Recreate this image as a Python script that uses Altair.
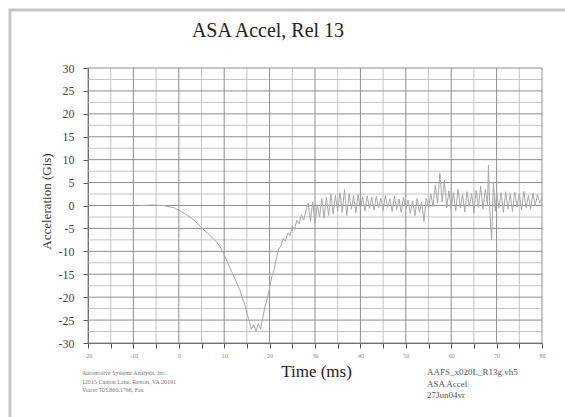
import altair as alt
import pandas as pd

# ---- data ----
time_ms = [-8.5, -6, -3.5, -1, 0.5, 2, 3.5, 5, 6.5, 8, 9, 10, 11, 12, 13, 13.5, 14, 14.5,
           15, 15.5, 16, 16.5, 17, 17.5, 18, 18.5, 19, 19.5, 20, 20.5, 21, 21.5, 22, 22.5,
           23, 23.5, 24, 24.5, 25, 25.5, 26, 26.5, 27, 27.5, 28,
           28.5, 29, 29.5, 30, 30.5, 31, 31.5, 32, 32.5, 33, 33.5, 34, 34.5, 35, 35.5, 36,
           36.5, 37, 37.5, 38, 38.5, 39, 39.5, 40, 40.5, 41, 41.5, 42, 42.5, 43, 43.5, 44,
           44.5, 45, 45.5, 46, 46.5, 47, 47.5, 48, 48.5, 49, 49.5, 50, 50.5, 51, 51.5, 52,
           52.5, 53, 53.5, 54, 54.5, 55, 55.5, 56, 56.5, 57, 57.5, 58, 58.5, 59, 59.5, 60,
           60.5, 61, 61.5, 62, 62.5, 63, 63.5, 64, 64.5, 65, 65.5, 66, 66.5, 67, 67.5, 68,
           68.2, 68.5, 68.9, 69.3, 69.7, 70, 70.5, 71, 71.5, 72, 72.5, 73, 73.5, 74, 74.5,
           75, 75.5, 76, 76.5, 77, 77.5, 78, 78.5, 79, 79.5, 80]
accel_g = [0, 0.1, 0, -0.5, -1.3, -2.2, -3.3, -4.8, -6.2, -7.6, -8.8, -10.8, -13, -15.2,
           -17.5, -18.6, -20.2, -21.5, -23.5, -25.2, -27, -26, -27.5, -25.8, -27, -24.5,
           -22, -20.3, -18, -15.5, -14, -11.5, -9.5, -8.8, -7.2, -7.8, -6, -6.6, -4.5,
           -5.2, -3.2, -4, -2, -3.2, -1.2,
           0.5, -3.5, 0.8, -3.8, 0.2, -2.5, 1.5, -2.8, 1.8, -2.2, 2.5, -1.8, 2.2, -1.2,
           2.8, -1.5, 3.5, -2.2, 2.6, -0.8, 2.2, -1.6, 2.4, -0.8, 1.9, -1.2, 2.1, -0.6,
           1.8, -1.0, 2.0, -0.5, 1.6, -1.1, 2.2, -0.4, 1.5, -1.3, 2.0, -0.9, 1.4, -1.5,
           1.8, -0.7, 1.2, -1.8, 1.0, -2.2, 1.5, -1.5, 0.8, -3.5, 1.6, -0.5, 2.5, -0.2,
           4.5, 0.5, 7.0, 0.8, 5.5, -0.5, 3.2, -0.8, 2.8, -1.2, 3.6, -0.5, 2.4, -1.4,
           3.0, -0.2, 2.6, -1.6, 3.3, -0.4, 4.2, -0.8, 3.5, 0.2, 8.8, -1.0, -7.5, 5.0,
           -1.2, 3.2, -0.6, 2.8, -1.5, 3.0, -0.8, 2.5, -1.3, 2.9, -0.3, 2.6, -1.0, 3.1,
           -0.5, 2.2, -0.8, 2.7, 0.0, 2.4, 0.6, 1.8]

x_ticks = [-20, -15, -10, -5, 0, 5, 10, 15, 20, 25, 30, 35, 40, 45, 50, 55, 60, 65, 70, 75, 80]
x_major = [-20, -10, 0, 10, 20, 30, 40, 50, 60, 70, 80]
x_minor = [-15, -5, 5, 15, 25, 35, 45, 55, 65, 75]
y_major = [-30, -25, -20, -15, -10, -5, 0, 5, 10, 15, 20, 25, 30]
y_minor = [-27.5, -22.5, -17.5, -12.5, -7.5, -2.5, 2.5, 7.5, 12.5, 17.5, 22.5, 27.5]

title_text = "ASA Accel, Rel 13"
x_title = "Time (ms)"
y_title = "Acceleration (Gis)"
left_notes = ["Automotive Systems Analysis, Inc.",
              "12015 Canton Lane, Reston, VA 20191",
              "Voice: 703.860.1766, Fax"]
right_notes = ["AAFS_x020L_R13g.vh5", "ASA Accel", "27Jun04vr"]

SERIF = "Liberation Serif"
xs = alt.Scale(domain=[-20, 80], nice=False, zero=False)
ys = alt.Scale(domain=[-30, 30], nice=False, zero=False)

x_axis = alt.Axis(
    values=x_ticks, grid=False, tickSize=5,
    labelExpr="datum.value % 10 == 0 ? '' + datum.value : ''",
    labelFontSize=6, labelColor="#888", labelPadding=4,
    labelFlush=False, title=x_title, titleFontSize=17,
    titleColor="#222", titleY=33, titleX=228, titleBaseline="alphabetic")
y_axis = alt.Axis(
    values=y_major, grid=False, tickSize=5,
    labelExpr="'' + datum.value", labelFontSize=12,
    labelColor="#444", labelPadding=9, title=y_title,
    titleFontSize=13, titleColor="#333",
    titleX=-42, titleY=133, titleAngle=270, titleBaseline="middle",
    titleAlign="center")

frame = alt.Chart(alt.Data(values=[{}])).mark_rect(
    filled=False, stroke="#c6c6c6", strokeWidth=3
).encode(x=alt.value(-78), x2=alt.value(540), y=alt.value(-58), y2=alt.value(420))

def vrules(vals, color):
    return alt.Chart(pd.DataFrame({"v": vals})).mark_rule(color=color, strokeWidth=1).encode(
        x=alt.X("v:Q", scale=xs, axis=x_axis))

def hrules(vals, color):
    return alt.Chart(pd.DataFrame({"v": vals})).mark_rule(color=color, strokeWidth=1).encode(
        y=alt.Y("v:Q", scale=ys, axis=y_axis))

line = alt.Chart(pd.DataFrame({"t": time_ms, "a": accel_g})).mark_line(
    color="#a8a8a8", strokeWidth=1
).encode(
    x=alt.X("t:Q", scale=xs, axis=x_axis),
    y=alt.Y("a:Q", scale=ys, axis=y_axis),
    order=alt.Order("t:Q"),
)

def text_layer(txt, x, y, size, align="left", color="#555", baseline="middle"):
    return alt.Chart(alt.Data(values=[{"s": txt}])).mark_text(
        font=SERIF, fontSize=size, align=align, baseline=baseline, color=color
    ).encode(text="s:N", x=alt.value(x), y=alt.value(y))

layers = [frame,
          vrules(x_minor, "#c4c4c4"), hrules(y_minor, "#c4c4c4"),
          vrules(x_major, "#8e8e8e"), hrules(y_major, "#8e8e8e"),
          line,
          text_layer(title_text, 180, -31, 20, align="center", color="#222",
                     baseline="alphabetic")]
for s, yy in zip(left_notes, [305, 314, 322]):
    layers.append(text_layer(s, -6, yy, 6, color="#777"))
for s, yy in zip(right_notes, [304, 316, 327]):
    layers.append(text_layer(s, 339, yy, 9, color="#555"))

chart = alt.layer(*layers).properties(
    width=454, height=275,
    autosize=alt.AutoSizeParams(type="none"),
    padding={"left": 88, "top": 68, "right": 23, "bottom": 74},
    background="white",
).configure_view(strokeWidth=0).configure_axis(
    labelFont=SERIF, titleFont=SERIF, titleFontWeight="normal",
    tickColor="#555", domainColor="#555"
)

chart.save("out.html", embed_options={"renderer": "svg", "actions": False})
